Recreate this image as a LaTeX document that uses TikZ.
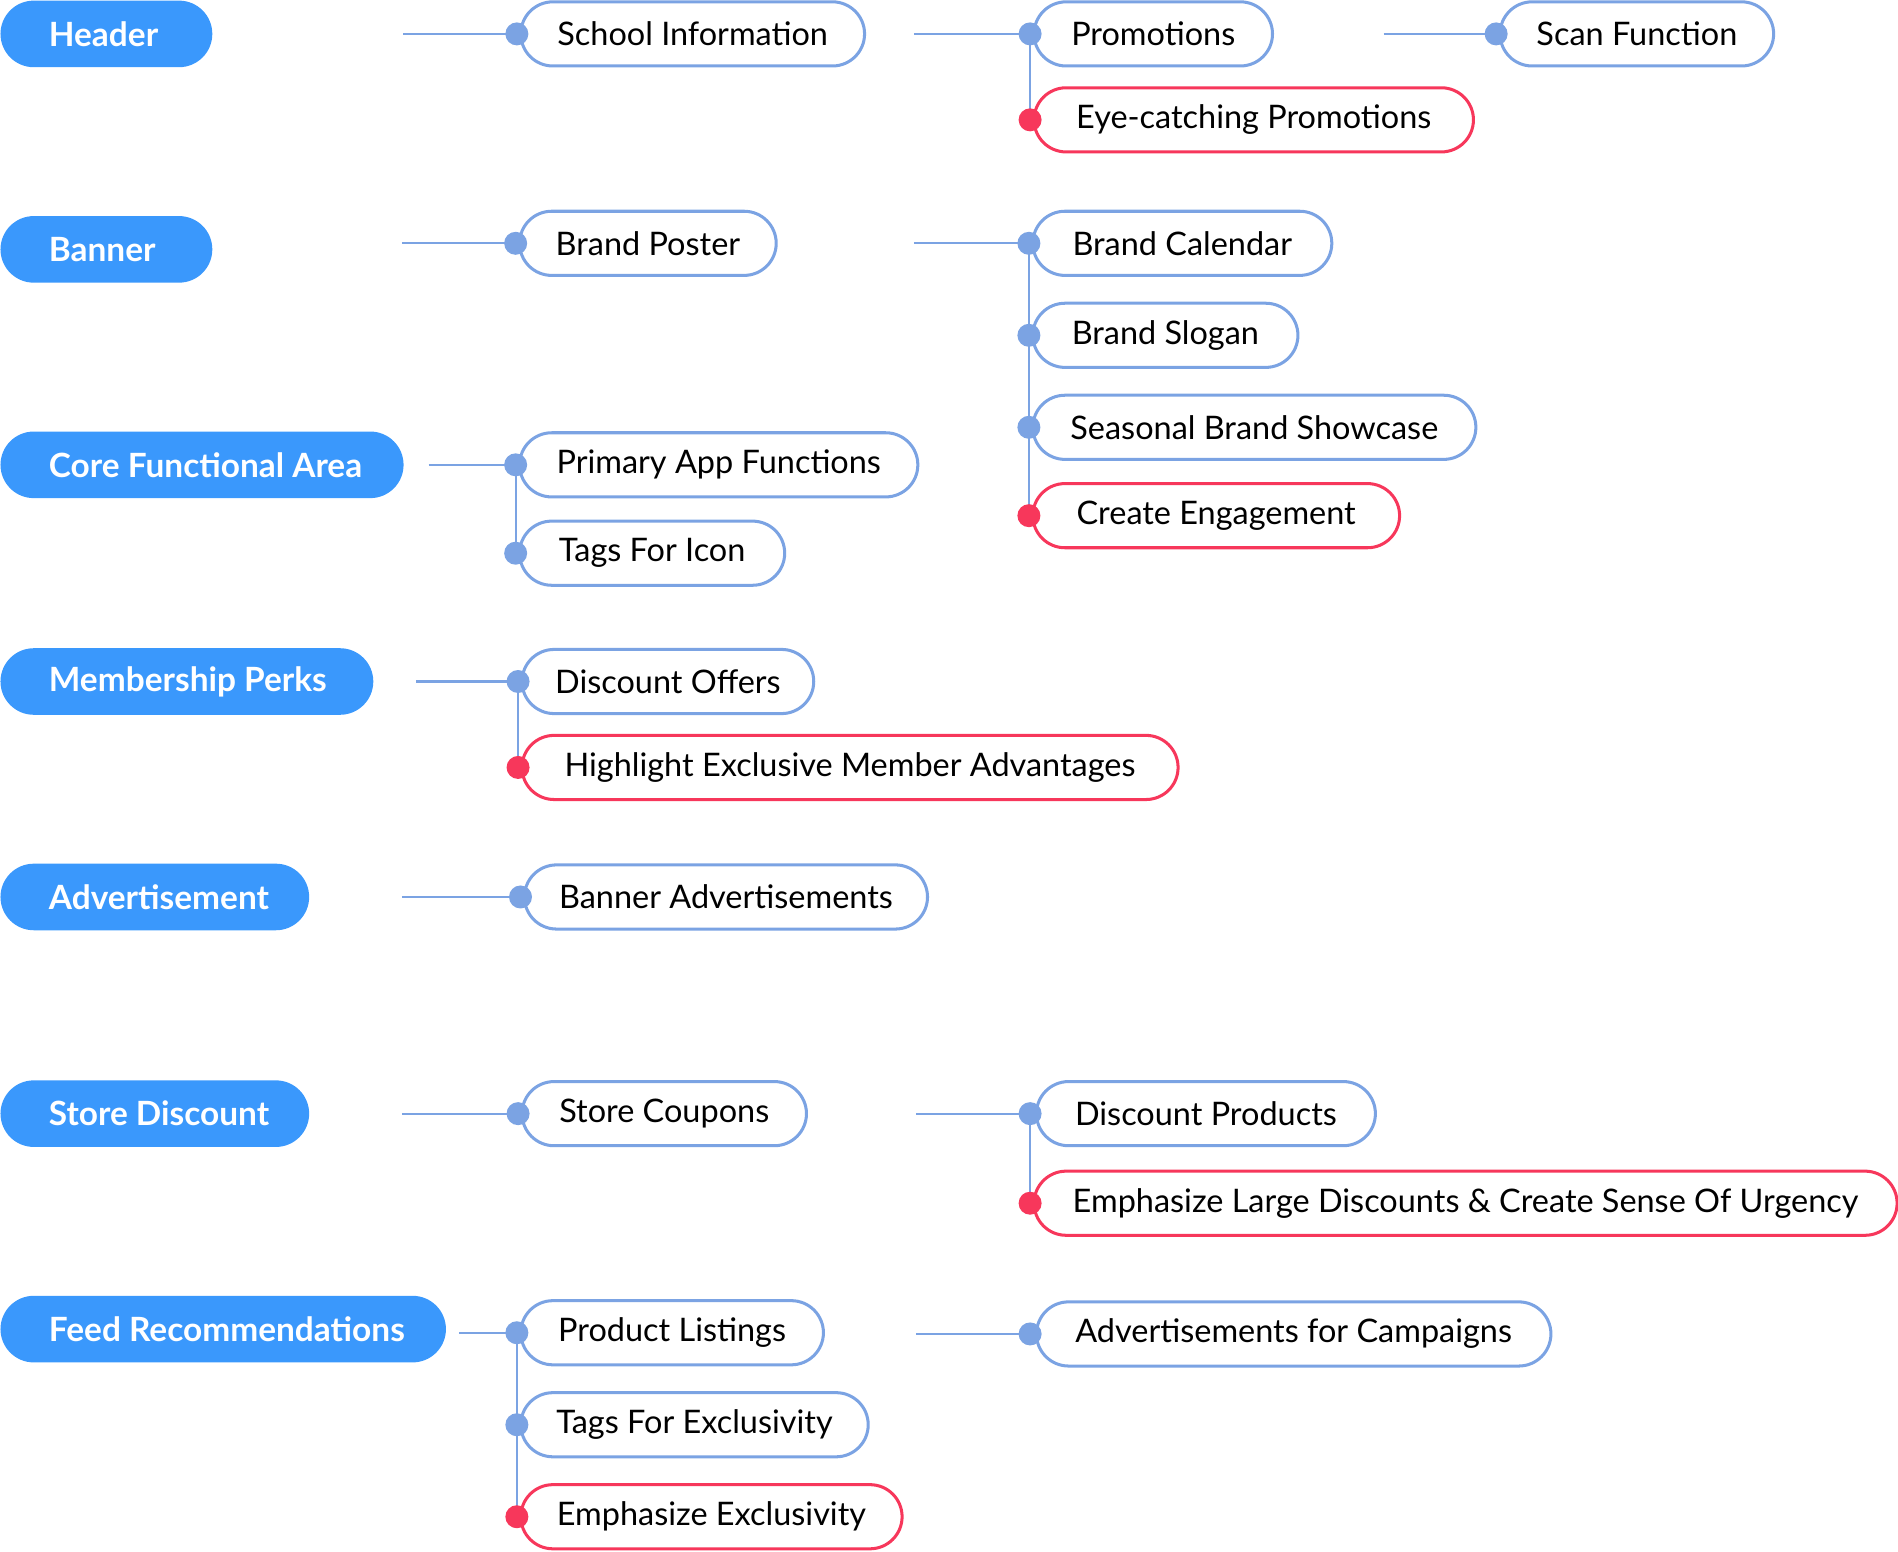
\documentclass[tikz,border=0pt]{standalone}
\usepackage{fontspec}
\setmainfont{Lato}
\definecolor{rootblue}{HTML}{3A98FC}
\definecolor{lineblue}{HTML}{7BA3E3}
\definecolor{hotred}{HTML}{F7375B}
\tikzset{
  rootbox/.style={fill=rootblue, text=white, rounded corners=13.75pt, minimum height=27.5pt,
    inner xsep=0pt, inner ysep=0pt, anchor=west, font=\fontsize{13.8}{16}\selectfont\bfseries},
  childbox/.style={draw=lineblue, line width=1.25pt, fill=white, rounded corners=13.25pt,
    minimum height=26.5pt, inner xsep=0pt, inner ysep=0pt, anchor=west,
    font=\fontsize{13.4}{16}\selectfont, text=black},
  redbox/.style={childbox, draw=hotred},
  link/.style={draw=lineblue, line width=0.85pt},
  bluedot/.style={fill=lineblue},
  reddot/.style={fill=hotred},
}
\newcommand{\rootlabel}[2]{\makebox[#1pt][l]{\hspace{20pt}#2}}
\begin{document}
\begin{tikzpicture}[x=0.5pt, y=-0.5pt]
\useasboundingbox (0,0) rectangle (1568,1282);

% roots
\node[rootbox] (rH) at (0,28)   {\rootlabel{87.5}{Header}};
\node[rootbox] (rB) at (0,206)  {\rootlabel{87.5}{Banner}};
\node[rootbox] (rC) at (0,384)  {\rootlabel{166.5}{Core Functional Area}};
\node[rootbox] (rM) at (0,563)  {\rootlabel{154}{Membership Perks}};
\node[rootbox] (rA) at (0,741)  {\rootlabel{127.5}{Advertisement}};
\node[rootbox] (rS) at (0,920)  {\rootlabel{127.5}{Store Discount}};
\node[rootbox] (rF) at (0,1098) {\rootlabel{184}{Feed Recommendations}};

% connector free ends
\coordinate (h0) at (333,28);
\coordinate (h1) at (755,28);
\coordinate (h2) at (1143,28);
\coordinate (b0) at (332,201);
\coordinate (b1) at (755,201);
\coordinate (c0) at (354,384);
\coordinate (m0) at (344,563);
\coordinate (a0) at (332,741);
\coordinate (s0) at (332,920);
\coordinate (s1) at (757,920);
\coordinate (f0) at (379,1101);
\coordinate (f1) at (757,1102);

% child nodes
\node[childbox, minimum width=142pt]   (hS) at (429,28)  {School Information};
\node[childbox, minimum width=98.5pt]  (hP) at (853,28)  {Promotions};
\node[redbox,   minimum width=181.5pt] (hE) at (853,99)  {Eye-catching Promotions};
\node[childbox, minimum width=113pt]   (hF) at (1238,28) {Scan Function};

\node[childbox, minimum width=106pt]   (bP) at (428,201) {Brand Poster};
\node[childbox, minimum width=123.5pt] (bC) at (852,201) {Brand Calendar};
\node[childbox, minimum width=109.5pt] (bS) at (852,277) {Brand Slogan};
\node[childbox, minimum width=183pt]   (bW) at (852,353) {Seasonal Brand Showcase};
\node[redbox,   minimum width=151.5pt] (bE) at (852,426) {Create Engagement};

\node[childbox, minimum width=164.5pt] (cP) at (428,384) {Primary App Functions};
\node[childbox, minimum width=109.5pt] (cT) at (428,457) {Tags For Icon};

\node[childbox, minimum width=120.5pt] (mD) at (430,563) {Discount Offers};
\node[redbox,   minimum width=271pt]   (mH) at (430,634) {Highlight Exclusive Member Advantages};

\node[childbox, minimum width=166.5pt] (aB) at (432,741) {Banner Advertisements};

\node[childbox, minimum width=117.5pt] (sC) at (430,920) {Store Coupons};
\node[childbox, minimum width=140pt]   (sD) at (855,920) {Discount Products};
\node[redbox,   minimum width=356.5pt] (sE) at (853,994) {Emphasize Large Discounts \& Create Sense Of Urgency};

\node[childbox, minimum width=125pt]   (fP) at (429,1101) {Product Listings};
\node[childbox, minimum width=143.5pt] (fT) at (429,1177) {Tags For Exclusivity};
\node[redbox,   minimum width=157.5pt] (fE) at (429,1253) {Emphasize Exclusivity};
\node[childbox, minimum width=212.5pt] (fA) at (855,1102) {Advertisements for Campaigns};

% connectors
\draw[link] (h0) -- (hS.west);
\draw[link] (h1) -- (hP.west);
\draw[link] ([xshift=-1pt]hP.west) -- ([xshift=-1pt]hE.west);
\draw[link] (h2) -- (hF.west);
\draw[link] (b0) -- (bP.west);
\draw[link] (b1) -- (bC.west);
\draw[link] ([xshift=-1pt]bC.west) -- ([xshift=-1pt]bE.west);
\draw[link] (c0) -- (cP.west);
\draw[link] ([xshift=-1pt]cP.west) -- ([xshift=-1pt]cT.west);
\draw[link] (m0) -- (mD.west);
\draw[link] ([xshift=-1pt]mD.west) -- ([xshift=-1pt]mH.west);
\draw[link] (a0) -- (aB.west);
\draw[link] (s0) -- (sC.west);
\draw[link] (s1) -- (sD.west);
\draw[link] ([xshift=-1pt]sE.west) -- ([xshift=-1pt]sE.west |- sD.west);
\draw[link] (f0) -- (fP.west);
\draw[link] ([xshift=-1pt]fP.west) -- ([xshift=-1pt]fE.west);
\draw[link] (f1) -- (fA.west);

% dots
\foreach \n in {hS,hP,hF,bP,bC,bS,bW,cP,cT,mD,aB,sC,fP,fT}
  \fill[bluedot] ([xshift=-1pt]\n.west) circle (4.75pt);
\fill[bluedot] ([xshift=-1pt]sE.west |- sD.west) circle (4.75pt);
\fill[bluedot] ([xshift=-1pt]sE.west |- fA.west) circle (4.75pt);
\foreach \n in {hE,bE,mH,sE,fE}
  \fill[reddot] ([xshift=-1pt]\n.west) circle (4.75pt);
\end{tikzpicture}
\end{document}
